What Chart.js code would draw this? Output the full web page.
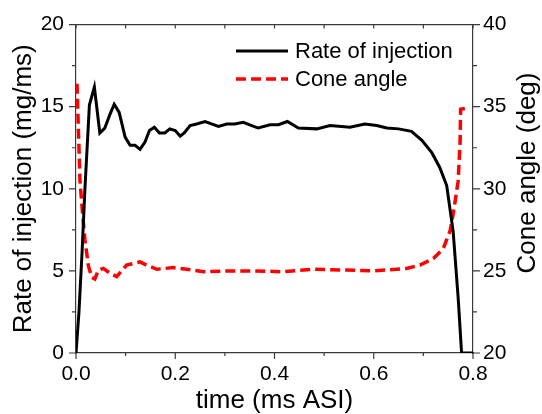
<!DOCTYPE html>
<html>
<head>
<meta charset="utf-8">
<title>Rate of injection and cone angle</title>
<script src="https://cdn.jsdelivr.net/npm/chart.js@4/dist/chart.umd.min.js"></script>
<style>
  html, body { margin: 0; padding: 0; background: #fff; }
  #wrap { position: relative; width: 542px; height: 414px; }
</style>
</head>
<body>
<div id="wrap"><canvas id="injChart"></canvas></div>
<script>
// ---- Data ----
const rateTime = [0, 0.006, 0.012, 0.018, 0.027, 0.037, 0.048, 0.058, 0.068, 0.077, 0.087, 0.099,
  0.109, 0.119, 0.129, 0.139, 0.148, 0.158, 0.168, 0.179, 0.189, 0.2, 0.21, 0.218, 0.23, 0.243,
  0.26, 0.273, 0.287, 0.304, 0.32, 0.337, 0.354, 0.367, 0.391, 0.408, 0.426, 0.448, 0.485, 0.512,
  0.552, 0.582, 0.606, 0.626, 0.65, 0.676, 0.697, 0.717, 0.733, 0.747, 0.76, 0.77, 0.777, 0.8];
const rateValues = [0, 2.5, 6, 10, 15.1, 16.2, 13.4, 13.7, 14.5, 15.15, 14.65, 13.15,
  12.65, 12.65, 12.4, 12.85, 13.55, 13.75, 13.4, 13.4, 13.65, 13.55, 13.2, 13.4, 13.85, 13.95,
  14.1, 13.95, 13.8, 13.95, 13.95, 14.05, 13.85, 13.7, 13.9, 13.9, 14.1, 13.7, 13.65, 13.85,
  13.75, 13.95, 13.85, 13.7, 13.65, 13.5, 12.95, 12.2, 11.3, 10.2, 7.4, 3.4, 0, 0];

const coneTime = [0.002, 0.008, 0.013, 0.018, 0.025, 0.032, 0.038, 0.045, 0.055, 0.069, 0.082,
  0.102, 0.129, 0.142, 0.163, 0.196, 0.223, 0.257, 0.304, 0.357, 0.418, 0.478, 0.546, 0.6,
  0.666, 0.693, 0.72, 0.74, 0.754, 0.76, 0.766, 0.77, 0.774, 0.775, 0.787];
const coneValues = [36.4, 30.5, 28.6, 26.9, 25.3, 24.6, 24.5, 25.05, 25.15, 24.85, 24.65,
  25.35, 25.55, 25.35, 25.1, 25.2, 25.1, 24.95, 25.0, 25.0, 24.95, 25.1, 25.05, 25.0,
  25.15, 25.35, 25.75, 26.35, 27.45, 28.45, 29.65, 30.45, 32.85, 34.85, 34.9];

const seriesNames = ['Rate of injection', 'Cone angle'];
const xTitle = 'time (ms ASI)';
const yTitle = 'Rate of injection (mg/ms)';
const y2Title = 'Cone angle (deg)';

// ---- Shared styling ----
const fontFam = "'Liberation Sans', Arial, Helvetica, sans-serif";
const axisColor = '#3a3a3a';
Chart.defaults.font.family = fontFam;
Chart.defaults.color = '#000';

const toPoints = (xs, ys) => xs.map((x, i) => ({ x, y: ys[i] }));
const isMajor = (v, step) => Math.abs(v / step - Math.round(v / step)) < 1e-6;

// ---- Frame: top border + tick marks (major/minor), legend, right title ----
const framePlugin = {
  id: 'frame',
  afterDraw(chart) {
    const { ctx, chartArea: a, scales } = chart;
    ctx.save();
    ctx.strokeStyle = axisColor;
    ctx.lineWidth = 1.2;
    ctx.beginPath();
    ctx.moveTo(a.left, a.top); ctx.lineTo(a.right, a.top);
    scales.x.ticks.forEach(t => {
      const px = scales.x.getPixelForValue(t.value);
      const major = isMajor(t.value, 0.2);
      ctx.moveTo(px, a.bottom); ctx.lineTo(px, a.bottom + (major ? 6 : 3));
      ctx.moveTo(px, a.top); ctx.lineTo(px, a.top + 4);
    });
    [['y', -1, a.left], ['y2', 1, a.right]].forEach(([id, dir, edge]) => {
      const s = scales[id];
      s.ticks.forEach(t => {
        const py = s.getPixelForValue(t.value);
        ctx.moveTo(edge, py); ctx.lineTo(edge + dir * (isMajor(t.value, 5) ? 7 : 4), py);
      });
    });
    ctx.stroke();

    // legend inside the plot, top right
    ctx.font = '22px ' + fontFam;
    ctx.textBaseline = 'middle';
    ctx.textAlign = 'left';
    chart.data.datasets.forEach((ds, i) => {
      const y = 51 + i * 28;
      ctx.strokeStyle = ds.borderColor;
      ctx.lineWidth = ds.borderWidth;
      ctx.setLineDash(ds.borderDash || []);
      ctx.beginPath(); ctx.moveTo(236, y); ctx.lineTo(288, y); ctx.stroke();
      ctx.setLineDash([]);
      ctx.fillStyle = '#000';
      ctx.fillText(ds.label, 295, y + 1);
    });

    // right axis title reads bottom-to-top
    ctx.font = '26px ' + fontFam;
    ctx.textAlign = 'center';
    ctx.translate(528, 173);
    ctx.rotate(-Math.PI / 2);
    ctx.fillText(y2Title, 0, 0);
    ctx.restore();
  }
};

new Chart(document.getElementById('injChart'), {
  type: 'line',
  data: {
    datasets: [
      { label: seriesNames[0], data: toPoints(rateTime, rateValues), yAxisID: 'y',
        borderColor: '#000000', borderWidth: 3, pointRadius: 0, tension: 0, fill: false },
      { label: seriesNames[1], data: toPoints(coneTime, coneValues), yAxisID: 'y2',
        borderColor: '#ff0000', borderWidth: 3.5, borderDash: [10, 5], pointRadius: 0, tension: 0, fill: false }
    ]
  },
  options: {
    responsive: true, maintainAspectRatio: false, animation: false,
    layout: { padding: { top: 21, left: 0, right: 0, bottom: 0 } },
    plugins: { legend: { display: false }, tooltip: { enabled: false } },
    scales: {
      x: {
        type: 'linear', position: 'bottom', min: 0, max: 0.8,
        ticks: { stepSize: 0.1, autoSkip: false, maxRotation: 0, padding: 9,
          font: { size: 21 }, color: '#000',
          callback: v => isMajor(v, 0.2) ? v.toFixed(1) : '' },
        grid: { display: false, drawTicks: false },
        border: { display: true, color: axisColor, width: 1.2 },
        title: { display: true, text: xTitle, color: '#000',
          font: { size: 26, lineHeight: 1.05 }, padding: { top: 0, bottom: 0 } },
        afterFit: s => { s.height = 61; }
      },
      y: {
        type: 'linear', position: 'left', min: 0, max: 20,
        ticks: { stepSize: 2.5, autoSkip: false, padding: 12, font: { size: 21 }, color: '#000',
          callback: v => isMajor(v, 5) ? String(v) : '' },
        grid: { display: false, drawTicks: false },
        border: { display: true, color: axisColor, width: 1.2 },
        title: { display: true, text: yTitle, color: '#000',
          font: { size: 26 }, padding: { top: 8, bottom: 0 } },
        afterFit: s => { s.width = 76; }
      },
      y2: {
        type: 'linear', position: 'right', min: 20, max: 40,
        ticks: { stepSize: 2.5, autoSkip: false, padding: 10, font: { size: 21 }, color: '#000',
          callback: v => isMajor(v, 5) ? String(v) : '' },
        grid: { display: false, drawTicks: false },
        border: { display: true, color: axisColor, width: 1.2 },
        afterFit: s => { s.width = 69; }
      }
    }
  },
  plugins: [framePlugin]
});
</script>
</body>
</html>
